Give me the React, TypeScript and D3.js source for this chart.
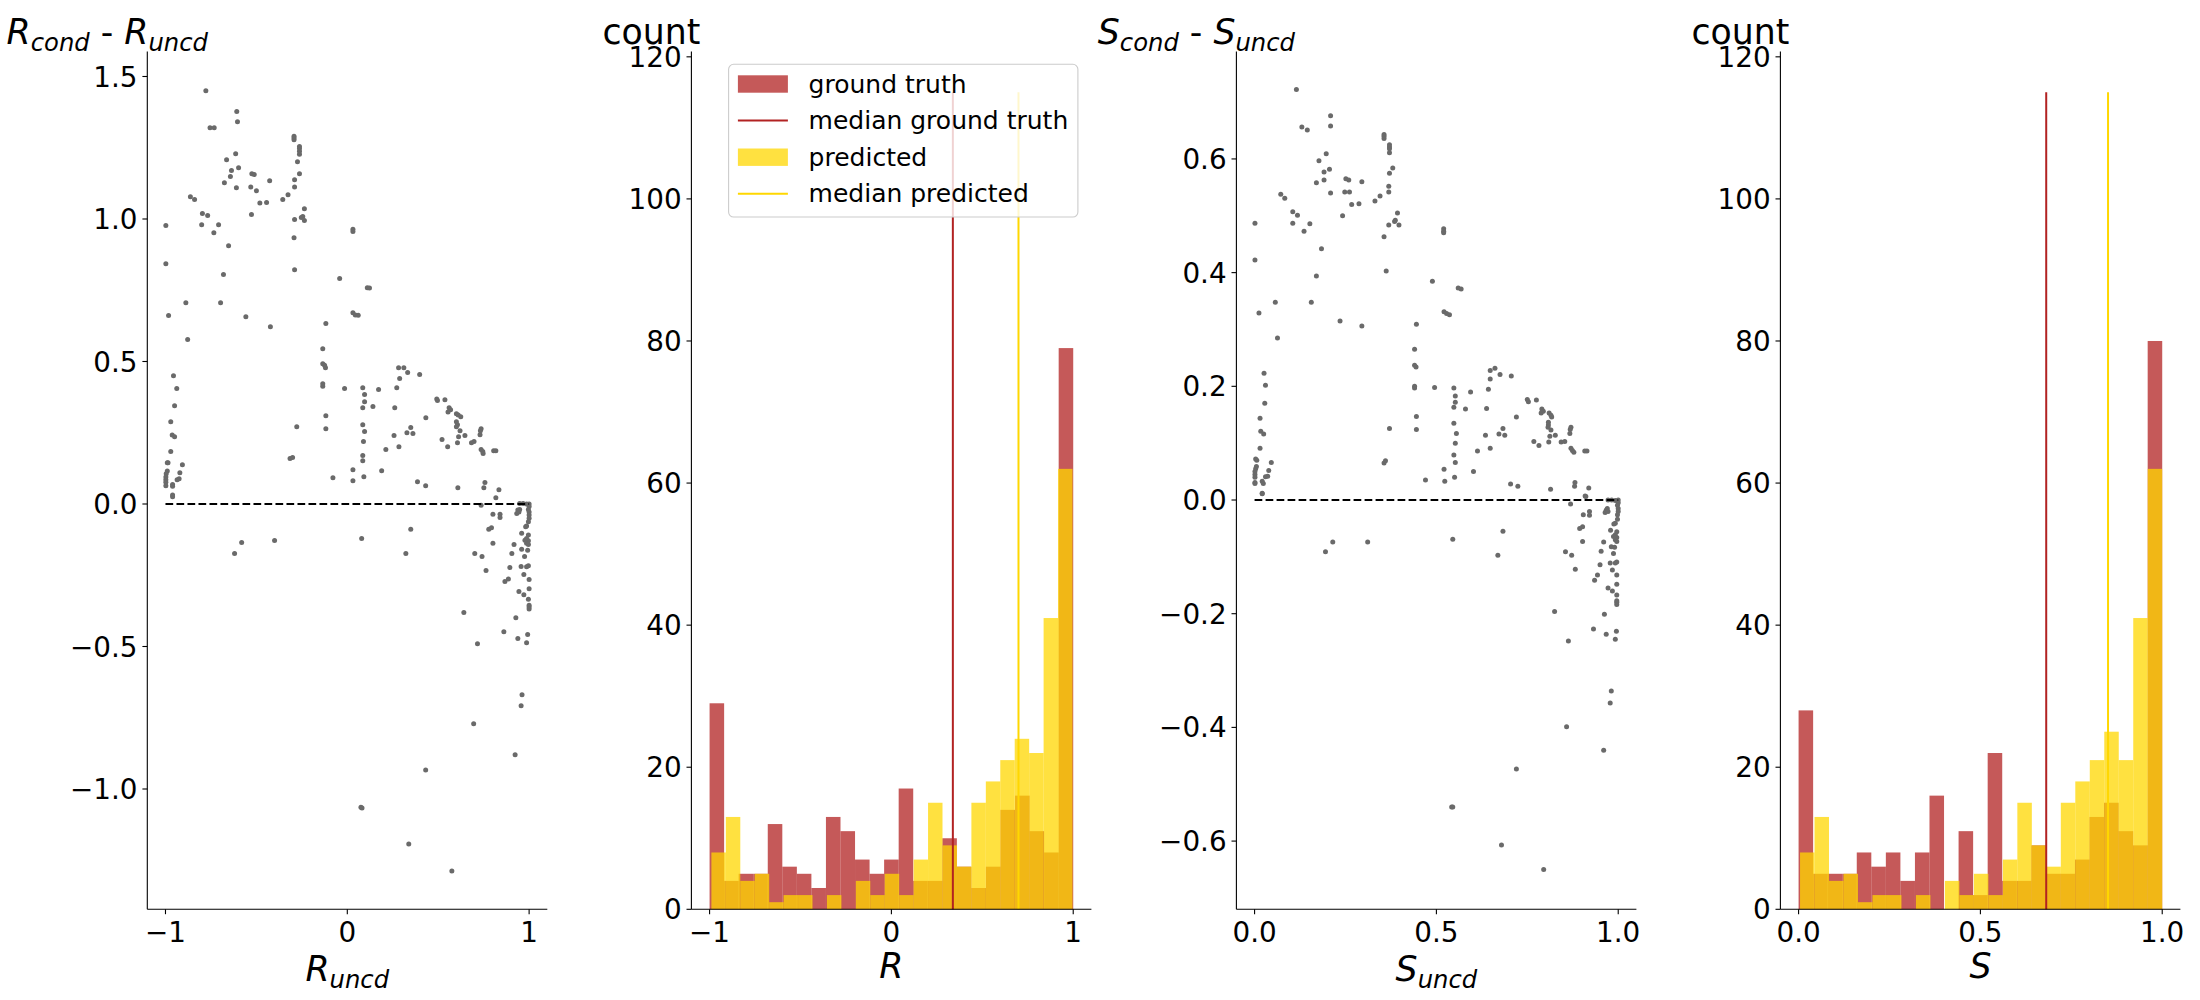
import React from "react";
import * as d3 from "d3";

// ---------- DATA ----------
// Panel 1: R_uncd (x) vs R_cond - R_uncd (y)
const rPoints: [number, number][] = [
  [-0.778,1.450],[-0.608,1.377],[-0.604,1.341],[-0.755,1.320],[-0.732,1.320],[-0.293,1.290],[-0.293,1.284],[-0.293,1.278],
  [-0.263,1.254],[-0.263,1.247],[-0.263,1.238],[-0.263,1.227],[-0.274,1.201],[-0.263,1.159],[-0.290,1.138],[-0.290,1.112],
  [-0.664,1.208],[-0.614,1.229],[-0.598,1.180],[-0.637,1.170],[-0.643,1.149],[-0.676,1.127],[-0.610,1.110],[-0.525,1.159],
  [-0.512,1.156],[-0.427,1.134],[-0.531,1.112],[-0.500,1.099],[-0.481,1.056],[-0.444,1.058],[-0.355,1.068],[-0.326,1.085],
  [-0.236,1.036],[-0.245,1.009],[-0.253,1.005],[-0.236,0.995],[-0.290,0.998],[-0.863,1.078],[-0.840,1.068],[-0.797,1.019],
  [-0.768,1.012],[-0.801,0.980],[-0.708,0.980],[-0.734,0.952],[-0.527,1.016],[-0.998,0.977],[-0.998,0.843],[-0.293,0.934],
  [-0.290,0.822],[-0.653,0.906],[-0.681,0.805],[-0.888,0.706],[-0.697,0.706],[-0.983,0.661],[-0.558,0.657],[-0.423,0.622],
  [-0.878,0.577],[0.031,0.964],[0.031,0.956],[-0.042,0.791],[0.110,0.759],[0.122,0.758],[0.031,0.671],[0.044,0.663],
  [0.060,0.662],[-0.118,0.633],[-0.135,0.545],[-0.135,0.492],[-0.125,0.487],[-0.120,0.478],[-0.135,0.422],[-0.135,0.413],
  [-0.118,0.310],[-0.118,0.264],[-0.278,0.271],[-0.315,0.160],[-0.301,0.163],[-0.015,0.405],[0.085,0.408],[0.095,0.384],
  [0.095,0.359],[0.085,0.338],[0.141,0.342],[0.172,0.402],[0.085,0.278],[0.095,0.254],[0.089,0.219],[0.085,0.170],
  [0.085,0.152],[0.031,0.120],[0.031,0.082],[0.091,0.096],[-0.079,0.092],[0.189,0.117],[0.212,0.191],[0.257,0.240],
  [0.284,0.201],[0.261,0.338],[0.272,0.408],[0.288,0.440],[0.282,0.478],[0.311,0.478],[0.332,0.461],[0.398,0.454],
  [0.349,0.268],[0.328,0.250],[0.361,0.247],[0.432,0.303],[0.386,0.078],[0.431,0.064],[0.492,0.368],[0.496,0.363],
  [0.537,0.366],[0.560,0.338],[0.568,0.331],[0.554,0.323],[0.600,0.317],[0.610,0.312],[0.624,0.306],[0.600,0.289],
  [0.606,0.278],[0.600,0.271],[0.620,0.257],[0.521,0.226],[0.552,0.201],[0.612,0.236],[0.606,0.215],[0.647,0.240],
  [0.683,0.215],[0.697,0.219],[0.736,0.264],[0.732,0.257],[0.730,0.243],[0.736,0.191],[0.745,0.184],[0.747,0.177],
  [0.805,0.187],[0.817,0.187],[0.608,0.057],[0.757,0.075],[0.751,0.057],[0.834,0.050],[0.817,0.022],
  [-0.956,0.450],[-0.938,0.405],[-0.950,0.345],[-0.971,0.289],[-0.963,0.242],[-0.950,0.236],[-0.971,0.184],[-0.990,0.145],
  [-0.986,0.145],[-0.990,0.116],[-0.996,0.106],[-0.998,0.095],[-0.998,0.085],[-0.998,0.076],[-0.998,0.064],[-0.961,0.068],
  [-0.961,0.062],[-0.961,0.025],[-0.961,0.032],[-0.936,0.085],[-0.925,0.089],[-0.921,0.110],[-0.907,0.138],
  [-0.620,-0.174],[-0.581,-0.135],[-0.400,-0.128],[0.079,-0.121],[0.322,-0.174],[0.349,-0.089],[0.736,-0.004],[0.801,-0.036],
  [0.840,-0.036],[0.840,-0.047],[0.778,-0.089],[0.793,-0.083],[0.801,-0.138],[0.701,-0.174],[0.741,-0.184],[0.763,-0.233],
  [0.867,-0.272],[0.886,-0.263],[0.894,-0.223],[0.905,-0.174],[0.917,-0.142],[0.944,-0.307],[0.971,-0.318],[0.956,-0.219],
  [0.971,-0.247],[0.975,-0.184],[0.959,-0.159],[0.959,-0.103],[0.927,-0.399],[0.641,-0.381],[0.861,-0.448],[0.938,-0.472],
  [0.986,-0.487],[0.992,-0.458],[0.716,-0.490],[0.961,-0.669],[0.956,-0.708],[0.695,-0.771],[0.923,-0.880],[0.431,-0.933],
  [0.075,-1.064],[0.081,-1.067],[0.338,-1.193],[0.575,-1.288],
  [0.948,0.002],[0.967,0.002],[0.986,0.000],[1.000,0.000],[1.000,-0.009],[0.996,-0.019],[1.000,-0.028],[1.000,-0.039],
  [1.000,-0.050],[0.996,-0.062],[0.938,-0.021],[0.948,-0.019],[0.932,-0.033],[0.944,-0.028],[0.986,-0.077],[0.981,-0.080],
  [0.996,-0.109],[0.986,-0.121],[0.996,-0.129],[0.986,-0.138],[0.996,-0.142],[0.977,-0.127],[0.992,-0.162],[0.996,-0.217],
  [0.986,-0.220],[1.000,-0.265],[1.000,-0.297],[0.996,-0.334],[1.000,-0.355],[1.000,-0.361],[1.000,-0.368],
];

// Panel 3: S_uncd (x) vs S_cond - S_uncd (y)
const sPoints: [number, number][] = [
  [0.115,0.722],[0.209,0.676],[0.209,0.658],[0.130,0.656],[0.145,0.651],[0.356,0.643],[0.356,0.640],[0.356,0.636],
  [0.371,0.625],[0.371,0.621],[0.371,0.618],[0.371,0.611],[0.380,0.584],[0.371,0.575],[0.369,0.552],[0.369,0.542],
  [0.197,0.609],[0.177,0.597],[0.206,0.582],[0.191,0.577],[0.191,0.563],[0.170,0.558],[0.209,0.540],[0.251,0.565],
  [0.259,0.563],[0.295,0.560],[0.248,0.542],[0.261,0.542],[0.267,0.520],[0.287,0.521],[0.331,0.526],[0.345,0.535],
  [0.393,0.505],[0.387,0.492],[0.385,0.490],[0.397,0.484],[0.369,0.484],[0.072,0.538],[0.083,0.531],[0.105,0.507],
  [0.118,0.501],[0.105,0.487],[0.152,0.486],[0.136,0.473],[0.242,0.500],[0.001,0.487],[0.001,0.422],[0.356,0.463],
  [0.362,0.403],[0.184,0.442],[0.170,0.394],[0.057,0.348],[0.156,0.348],[0.012,0.329],[0.235,0.315],[0.295,0.306],
  [0.063,0.285],[0.520,0.477],[0.520,0.473],[0.520,0.470],[0.489,0.385],[0.560,0.373],[0.568,0.371],[0.521,0.331],
  [0.528,0.328],[0.536,0.326],[0.445,0.309],[0.440,0.265],[0.440,0.237],[0.444,0.234],[0.440,0.200],[0.440,0.197],
  [0.445,0.147],[0.445,0.124],[0.371,0.126],[0.356,0.065],[0.360,0.069],[0.495,0.198],[0.548,0.197],[0.552,0.183],
  [0.552,0.172],[0.548,0.163],[0.580,0.160],[0.594,0.190],[0.548,0.135],[0.555,0.117],[0.552,0.100],[0.548,0.079],
  [0.552,0.066],[0.521,0.054],[0.523,0.033],[0.550,0.040],[0.470,0.035],[0.602,0.050],[0.613,0.086],[0.635,0.114],
  [0.648,0.091],[0.638,0.161],[0.643,0.195],[0.648,0.213],[0.648,0.228],[0.661,0.232],[0.675,0.221],[0.706,0.218],
  [0.683,0.126],[0.672,0.116],[0.688,0.114],[0.720,0.146],[0.704,0.028],[0.724,0.024],[0.750,0.177],[0.753,0.173],
  [0.775,0.176],[0.790,0.160],[0.794,0.156],[0.788,0.153],[0.810,0.153],[0.815,0.149],[0.817,0.146],[0.808,0.137],
  [0.808,0.132],[0.807,0.128],[0.815,0.123],[0.768,0.103],[0.782,0.096],[0.812,0.112],[0.809,0.102],[0.827,0.114],
  [0.843,0.102],[0.853,0.103],[0.870,0.128],[0.868,0.124],[0.867,0.117],[0.870,0.091],[0.874,0.087],[0.878,0.084],
  [0.908,0.086],[0.914,0.086],[0.814,0.019],[0.881,0.031],[0.880,0.024],[0.919,0.021],[0.911,0.006],
  [0.026,0.223],[0.030,0.202],[0.028,0.170],[0.015,0.144],[0.017,0.121],[0.025,0.116],[0.015,0.091],[0.003,0.072],
  [0.006,0.070],[0.005,0.059],[0.003,0.055],[0.001,0.050],[0.001,0.045],[0.001,0.040],[0.001,0.031],[0.001,0.029],
  [0.021,0.033],[0.024,0.029],[0.021,0.012],[0.021,0.011],[0.030,0.041],[0.036,0.042],[0.039,0.052],[0.046,0.066],
  [0.869,-0.007],[0.909,0.007],[0.904,-0.026],[0.921,-0.020],[0.921,-0.027],[0.894,-0.050],[0.902,-0.047],[0.902,-0.073],
  [0.195,-0.091],[0.215,-0.074],[0.311,-0.074],[0.545,-0.069],[0.683,-0.055],[0.669,-0.097],[0.855,-0.091],[0.872,-0.097],
  [0.882,-0.122],[0.935,-0.141],[0.943,-0.132],[0.950,-0.114],[0.953,-0.090],[0.960,-0.074],[0.972,-0.155],[0.984,-0.160],
  [0.978,-0.111],[0.984,-0.123],[0.987,-0.094],[0.981,-0.082],[0.979,-0.053],[0.962,-0.201],[0.825,-0.196],[0.932,-0.227],
  [0.967,-0.236],[0.992,-0.245],[0.995,-0.231],[0.863,-0.248],[0.981,-0.336],[0.978,-0.357],[0.858,-0.399],[0.960,-0.440],
  [0.720,-0.473],[0.542,-0.540],[0.545,-0.540],[0.679,-0.607],[0.795,-0.650],
  [0.972,0.000],[0.982,0.000],[0.992,-0.001],[1.000,0.000],[1.000,-0.005],[0.998,-0.009],[1.000,-0.015],[1.000,-0.020],
  [0.998,-0.026],[0.998,-0.034],[0.967,-0.018],[0.970,-0.015],[0.964,-0.022],[0.972,-0.020],[0.992,-0.041],[0.988,-0.042],
  [0.996,-0.056],[0.992,-0.061],[0.996,-0.066],[0.992,-0.070],[0.996,-0.073],[0.987,-0.064],[0.990,-0.083],[0.996,-0.109],
  [0.992,-0.111],[0.996,-0.132],[0.996,-0.148],[0.996,-0.167],[0.996,-0.177],[0.996,-0.180],[0.996,-0.184],
];

// Panel 2: histogram of R (25 bins)
const rGroundRange: [number, number] = [-1, 1];
const rPredRange: [number, number] = [-0.99, 0.996];
const rGroundCounts = [29, 4, 5, 5, 12, 6, 5, 3, 13, 11, 7, 5, 7, 17, 4, 4, 10, 6, 3, 6, 14, 16, 11, 8, 79];
const rPredCounts = [8, 13, 4, 5, 1, 2, 2, 0, 2, 0, 4, 2, 5, 2, 7, 15, 9, 6, 15, 18, 21, 24, 22, 41, 62];
const rMedianGround = 0.338;
const rMedianPred = 0.699;

// Panel 4: histogram of S (25 bins)
const sGroundRange: [number, number] = [0, 1];
const sPredRange: [number, number] = [0.004, 1.0];
const sGroundCounts = [28, 5, 5, 5, 8, 6, 8, 4, 8, 16, 0, 11, 2, 22, 4, 4, 9, 5, 5, 7, 13, 15, 11, 9, 80];
const sPredCounts = [8, 13, 4, 5, 1, 2, 2, 0, 2, 0, 4, 2, 5, 2, 7, 15, 9, 6, 15, 18, 21, 25, 21, 41, 62];
const sMedianGround = 0.681;
const sMedianPred = 0.851;

const medianLineTop = 115;
const countTicks = [0, 20, 40, 60, 80, 100, 120];
const rDiffTicks = [-1.0, -0.5, 0.0, 0.5, 1.0, 1.5];
const sDiffTicks = [-0.6, -0.4, -0.2, 0.0, 0.2, 0.4, 0.6];
const rTicks = [-1, 0, 1];
const sTicks = [0.0, 0.5, 1.0];
const legendItems = [
  { label: "ground truth", kind: "patch", color: "#B22222" },
  { label: "median ground truth", kind: "line", color: "#B22222" },
  { label: "predicted", kind: "patch", color: "#FFD700" },
  { label: "median predicted", kind: "line", color: "#FFD700" },
];

// ---------- LAYOUT ----------
const W = 2200;
const H = 1000;
const AX_TOP = 51.5;
const AX_BOTTOM = 909.3;
const AX_W = 400;
const AX_LEFTS = [147.3, 691.4, 1236.4, 1780.4];
const FONT = "'DejaVu Sans', sans-serif";
const TICK_FS = 27.8;
const LEGEND_FS = 25;
const LABEL_FS = 34.7;
const SUB_DY = 7;
const TICK_LEN = 4.9;
const RED = "#B22222";
const GOLD = "#FFD700";
const POINT = "#6a6a6a";

const fmtMinus = (s: string) => s.replace("-", "\u2212");

function MathLabel({ x, y, main, sub, anchor = "middle" }: any) {
  return (
    <text x={x} y={y} fontFamily={FONT} fontSize={LABEL_FS} textAnchor={anchor} fill="#000">
      <tspan fontStyle="italic">{main}</tspan>
      {sub ? (
        <tspan fontStyle="italic" fontSize={LABEL_FS * 0.7} dy={SUB_DY}>
          {sub}
        </tspan>
      ) : null}
    </text>
  );
}

function DiffLabel({ x, y, v }: { x: number; y: number; v: string }) {
  return (
    <text x={x} y={y} fontFamily={FONT} fontSize={LABEL_FS} textAnchor="middle" fill="#000">
      <tspan fontStyle="italic">{v}</tspan>
      <tspan fontStyle="italic" fontSize={LABEL_FS * 0.7} dy={SUB_DY}>cond</tspan>
      <tspan dy={-SUB_DY}> - </tspan>
      <tspan fontStyle="italic">{v}</tspan>
      <tspan fontStyle="italic" fontSize={LABEL_FS * 0.7} dy={SUB_DY}>uncd</tspan>
    </text>
  );
}

function Axes({ x, y, xTicks, yTicks, xFmt, yFmt }: any) {
  const [x0, x1] = x.range();
  const [y0, y1] = y.range();
  return (
    <g>
      <line x1={x0} x2={x0} y1={y0} y2={y1} stroke="#000" strokeWidth={1.1} />
      <line x1={x0} x2={x1} y1={y0} y2={y0} stroke="#000" strokeWidth={1.1} />
      {xTicks.map((t: number) => (
        <g key={"x" + t}>
          <line x1={x(t)} x2={x(t)} y1={y0} y2={y0 + TICK_LEN} stroke="#000" strokeWidth={1.1} />
          <text x={x(t)} y={941.5} fontFamily={FONT} fontSize={TICK_FS} textAnchor="middle" fill="#000">
            {fmtMinus(xFmt(t))}
          </text>
        </g>
      ))}
      {yTicks.map((t: number) => (
        <g key={"y" + t}>
          <line x1={x0 - TICK_LEN} x2={x0} y1={y(t)} y2={y(t)} stroke="#000" strokeWidth={1.1} />
          <text x={x0 - 9.8} y={y(t) + 10.1} fontFamily={FONT} fontSize={TICK_FS} textAnchor="end" fill="#000">
            {fmtMinus(yFmt(t))}
          </text>
        </g>
      ))}
    </g>
  );
}

function Scatter({ left, points, xDomain, yDomain, zeroFrom, xTicks, yTicks, xFmt, yFmt, v }: any) {
  const x = d3.scaleLinear().domain(xDomain).range([left, left + AX_W]);
  const y = d3.scaleLinear().domain(yDomain).range([AX_BOTTOM, AX_TOP]);
  return (
    <g>
      {points.map((p: [number, number], i: number) => (
        <circle key={i} cx={x(p[0])} cy={y(p[1])} r={2.5} fill={POINT} />
      ))}
      <line x1={x(zeroFrom)} x2={x(1)} y1={y(0)} y2={y(0)} stroke="#000" strokeWidth={2} strokeDasharray="7.7,3.3" />
      <Axes x={x} y={y} xTicks={xTicks} yTicks={yTicks} xFmt={xFmt} yFmt={yFmt} />
      <DiffLabel x={left - 40} y={43.5} v={v} />
      <MathLabel x={left + AX_W / 2} y={980.5} main={v} sub="uncd" />
    </g>
  );
}

function histBars(counts: number[], range: [number, number]) {
  const bw = (range[1] - range[0]) / counts.length;
  return counts.map((c, i) => ({ x0: range[0] + i * bw, x1: range[0] + (i + 1) * bw, c }));
}

function Histogram({ left, xDomain, groundCounts, groundRange, predCounts, predRange, medG, medP, xTicks, xFmt, v, legend }: any) {
  const x = d3.scaleLinear().domain(xDomain).range([left, left + AX_W]);
  const y = d3.scaleLinear().domain([0, 120.75]).range([AX_BOTTOM, AX_TOP]);
  const gb = histBars(groundCounts, groundRange);
  const pb = histBars(predCounts, predRange);
  return (
    <g>
      {gb.map((b, i) =>
        b.c > 0 ? (
          <rect key={"g" + i} x={x(b.x0)} width={x(b.x1) - x(b.x0)} y={y(b.c)} height={y(0) - y(b.c)} fill={RED} fillOpacity={0.75} />
        ) : null
      )}
      {pb.map((b, i) =>
        b.c > 0 ? (
          <rect key={"p" + i} x={x(b.x0)} width={x(b.x1) - x(b.x0)} y={y(b.c)} height={y(0) - y(b.c)} fill={GOLD} fillOpacity={0.75} />
        ) : null
      )}
      <line x1={x(medG)} x2={x(medG)} y1={y(0)} y2={y(medianLineTop)} stroke={RED} strokeWidth={2} />
      <line x1={x(medP)} x2={x(medP)} y1={y(0)} y2={y(medianLineTop)} stroke={GOLD} strokeWidth={2} />
      <Axes x={x} y={y} xTicks={xTicks} yTicks={countTicks} xFmt={xFmt} yFmt={(t: number) => String(t)} />
      <text x={left - 40} y={43.5} fontFamily={FONT} fontSize={LABEL_FS} textAnchor="middle" fill="#000">count</text>
      <MathLabel x={left + AX_W / 2} y={978} main={v} />
      {legend ? <Legend left={left} /> : null}
    </g>
  );
}

function Legend({ left }: { left: number }) {
  const bx = left + 37.2;
  const by = 64.3;
  const rowH = 36.6;
  const firstRow = 84;
  return (
    <g>
      <rect x={bx} y={by} width={349.3} height={152.7} rx={5} ry={5} fill="#fff" fillOpacity={0.8} stroke="#cccccc" strokeWidth={1.1} />
      {legendItems.map((it, i) => {
        const cy = firstRow + i * rowH;
        return (
          <g key={it.label}>
            {it.kind === "patch" ? (
              <rect x={bx + 9.3} y={cy - 8.7} width={50} height={17.4} fill={it.color} fillOpacity={0.75} />
            ) : (
              <line x1={bx + 9.3} x2={bx + 59.3} y1={cy} y2={cy} stroke={it.color} strokeWidth={2} />
            )}
            <text x={bx + 80} y={cy + 8.6} fontFamily={FONT} fontSize={LEGEND_FS} fill="#000">{it.label}</text>
          </g>
        );
      })}
    </g>
  );
}

export default function App() {
  const f1 = (t: number) => d3.format(".1f")(t);
  const f0 = (t: number) => d3.format("d")(t);
  return (
    <svg width={W} height={H} viewBox={`0 0 ${W} ${H}`} style={{ position: "absolute", left: 0, top: 0, background: "#fff" }}>
      <rect x={0} y={0} width={W} height={H} fill="#fff" />
      <Scatter left={AX_LEFTS[0]} points={rPoints} xDomain={[-1.1, 1.1]} yDomain={[-1.4221, 1.5877]} zeroFrom={-1}
        xTicks={rTicks} yTicks={rDiffTicks} xFmt={f0} yFmt={f1} v="R" />
      <Histogram left={AX_LEFTS[1]} xDomain={[-1.1, 1.1]} groundCounts={rGroundCounts} groundRange={rGroundRange}
        predCounts={rPredCounts} predRange={rPredRange} medG={rMedianGround} medP={rMedianPred}
        xTicks={rTicks} xFmt={f0} v="R" legend />
      <Scatter left={AX_LEFTS[2]} points={sPoints} xDomain={[-0.05, 1.05]} yDomain={[-0.72, 0.789]} zeroFrom={0}
        xTicks={sTicks} yTicks={sDiffTicks} xFmt={f1} yFmt={f1} v="S" />
      <Histogram left={AX_LEFTS[3]} xDomain={[-0.05, 1.05]} groundCounts={sGroundCounts} groundRange={sGroundRange}
        predCounts={sPredCounts} predRange={sPredRange} medG={sMedianGround} medP={sMedianPred}
        xTicks={sTicks} xFmt={f1} v="S" />
    </svg>
  );
}
